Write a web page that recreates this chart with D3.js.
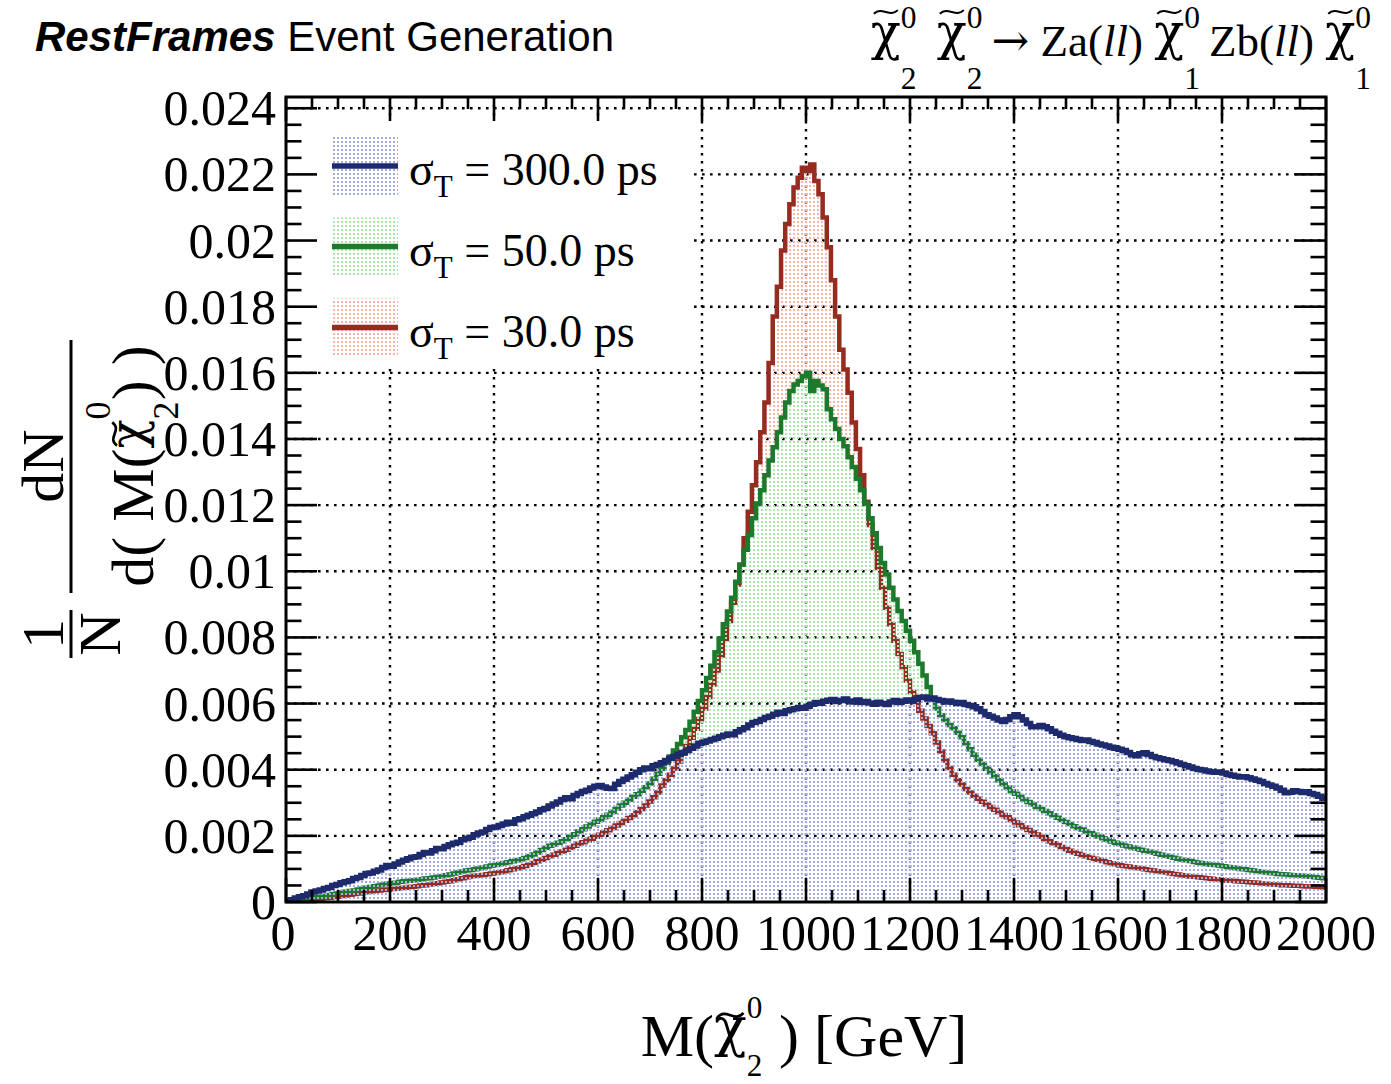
<!DOCTYPE html>
<html>
<head>
<meta charset="utf-8">
<script src="https://cdn.jsdelivr.net/npm/d3@7"></script>
<style>
  body { margin: 0; background: #fff; }
  text { font-family: "Liberation Serif", "Times New Roman", serif; fill: #000; white-space: pre; }
</style>
</head>
<body>
<script>
// histogram binning, GeV
var binWidth = 8, xMin = 0, xMax = 2000;

// 1/N dN/dM per 8 GeV bin, sigma_T = 300 ps
var sigma300 = [
  0.00003, 0.00007, 0.00012, 0.00016, 0.00019, 0.00024, 0.00030, 0.00033, 0.00036, 0.00041,
  0.00044, 0.00050, 0.00053, 0.00058, 0.00061, 0.00064, 0.00071, 0.00074, 0.00080, 0.00086,
  0.00088, 0.00093, 0.00097, 0.00104, 0.00110, 0.00108, 0.00115, 0.00121, 0.00126, 0.00131,
  0.00135, 0.00137, 0.00144, 0.00150, 0.00148, 0.00155, 0.00162, 0.00161, 0.00168, 0.00173,
  0.00178, 0.00181, 0.00188, 0.00192, 0.00196, 0.00203, 0.00209, 0.00212, 0.00219, 0.00225,
  0.00227, 0.00231, 0.00236, 0.00241, 0.00238, 0.00249, 0.00252, 0.00258, 0.00262, 0.00267,
  0.00272, 0.00279, 0.00283, 0.00290, 0.00296, 0.00302, 0.00310, 0.00315, 0.00312, 0.00322,
  0.00328, 0.00334, 0.00338, 0.00345, 0.00350, 0.00352, 0.00348, 0.00344, 0.00343, 0.00356,
  0.00364, 0.00371, 0.00378, 0.00385, 0.00392, 0.00400, 0.00405, 0.00403, 0.00412, 0.00416,
  0.00421, 0.00428, 0.00435, 0.00440, 0.00447, 0.00452, 0.00458, 0.00465, 0.00472, 0.00480,
  0.00483, 0.00487, 0.00491, 0.00495, 0.00500, 0.00504, 0.00508, 0.00506, 0.00515, 0.00521,
  0.00527, 0.00535, 0.00543, 0.00546, 0.00552, 0.00558, 0.00562, 0.00568, 0.00574, 0.00570,
  0.00578, 0.00581, 0.00584, 0.00588, 0.00586, 0.00592, 0.00598, 0.00603, 0.00601, 0.00607,
  0.00610, 0.00612, 0.00606, 0.00609, 0.00614, 0.00608, 0.00605, 0.00611, 0.00603, 0.00606,
  0.00602, 0.00598, 0.00604, 0.00600, 0.00597, 0.00605, 0.00609, 0.00603, 0.00607, 0.00611,
  0.00608, 0.00613, 0.00618, 0.00620, 0.00614, 0.00617, 0.00612, 0.00609, 0.00605, 0.00608,
  0.00604, 0.00600, 0.00603, 0.00597, 0.00594, 0.00590, 0.00584, 0.00576, 0.00566, 0.00562,
  0.00556, 0.00550, 0.00546, 0.00552, 0.00560, 0.00566, 0.00560, 0.00550, 0.00540, 0.00530,
  0.00530, 0.00534, 0.00530, 0.00524, 0.00516, 0.00510, 0.00504, 0.00500, 0.00497, 0.00494,
  0.00491, 0.00488, 0.00490, 0.00485, 0.00482, 0.00478, 0.00475, 0.00472, 0.00468, 0.00465,
  0.00462, 0.00458, 0.00452, 0.00445, 0.00442, 0.00448, 0.00451, 0.00446, 0.00440, 0.00436,
  0.00433, 0.00430, 0.00428, 0.00424, 0.00420, 0.00416, 0.00412, 0.00408, 0.00404, 0.00401,
  0.00399, 0.00396, 0.00394, 0.00392, 0.00393, 0.00390, 0.00386, 0.00383, 0.00380, 0.00378,
  0.00379, 0.00376, 0.00372, 0.00368, 0.00364, 0.00358, 0.00354, 0.00350, 0.00345, 0.00338,
  0.00330, 0.00332, 0.00336, 0.00334, 0.00331, 0.00333, 0.00328, 0.00325, 0.00320, 0.00314
];

// sigma_T = 50 ps
var sigma50 = [
  0.00001, 0.00003, 0.00005, 0.00006, 0.00008, 0.00011, 0.00013, 0.00015, 0.00017, 0.00019,
  0.00021, 0.00024, 0.00026, 0.00029, 0.00031, 0.00033, 0.00035, 0.00038, 0.00040, 0.00043,
  0.00045, 0.00048, 0.00050, 0.00053, 0.00055, 0.00057, 0.00058, 0.00061, 0.00063, 0.00064,
  0.00066, 0.00067, 0.00069, 0.00071, 0.00072, 0.00074, 0.00076, 0.00078, 0.00081, 0.00083,
  0.00086, 0.00089, 0.00092, 0.00095, 0.00097, 0.00099, 0.00101, 0.00104, 0.00107, 0.00110,
  0.00112, 0.00115, 0.00118, 0.00120, 0.00123, 0.00126, 0.00129, 0.00133, 0.00138, 0.00144,
  0.00150, 0.00157, 0.00164, 0.00170, 0.00174, 0.00179, 0.00184, 0.00190, 0.00197, 0.00205,
  0.00213, 0.00220, 0.00228, 0.00235, 0.00243, 0.00249, 0.00256, 0.00264, 0.00272, 0.00282,
  0.00292, 0.00300, 0.00309, 0.00318, 0.00326, 0.00336, 0.00347, 0.00358, 0.00373, 0.00388,
  0.00404, 0.00421, 0.00440, 0.00458, 0.00478, 0.00498, 0.00520, 0.00545, 0.00575, 0.00608,
  0.00640, 0.00677, 0.00714, 0.00755, 0.00797, 0.00840, 0.00878, 0.00920, 0.00968, 0.01020,
  0.01065, 0.01110, 0.01160, 0.01205, 0.01245, 0.01290, 0.01335, 0.01375, 0.01420, 0.01465,
  0.01510, 0.01545, 0.01565, 0.01575, 0.01590, 0.01600, 0.01545, 0.01575, 0.01562, 0.01550,
  0.01490, 0.01460, 0.01430, 0.01400, 0.01378, 0.01345, 0.01315, 0.01280, 0.01245, 0.01205,
  0.01160, 0.01115, 0.01070, 0.01025, 0.00990, 0.00950, 0.00915, 0.00880, 0.00850, 0.00820,
  0.00790, 0.00755, 0.00720, 0.00685, 0.00650, 0.00616, 0.00585, 0.00565, 0.00550, 0.00535,
  0.00525, 0.00512, 0.00498, 0.00480, 0.00462, 0.00445, 0.00430, 0.00417, 0.00405, 0.00392,
  0.00380, 0.00368, 0.00357, 0.00346, 0.00335, 0.00327, 0.00318, 0.00310, 0.00302, 0.00295,
  0.00287, 0.00281, 0.00275, 0.00268, 0.00262, 0.00255, 0.00248, 0.00242, 0.00236, 0.00229,
  0.00224, 0.00219, 0.00213, 0.00208, 0.00203, 0.00198, 0.00193, 0.00188, 0.00183, 0.00179,
  0.00175, 0.00171, 0.00168, 0.00165, 0.00161, 0.00158, 0.00155, 0.00152, 0.00149, 0.00146,
  0.00143, 0.00140, 0.00137, 0.00134, 0.00131, 0.00128, 0.00126, 0.00124, 0.00121, 0.00119,
  0.00117, 0.00115, 0.00113, 0.00112, 0.00110, 0.00108, 0.00106, 0.00104, 0.00102, 0.00100,
  0.00099, 0.00097, 0.00095, 0.00093, 0.00091, 0.00089, 0.00088, 0.00087, 0.00085, 0.00084,
  0.00083, 0.00082, 0.00081, 0.00080, 0.00079, 0.00078, 0.00076, 0.00075, 0.00073, 0.00072
];

// sigma_T = 30 ps
var sigma30 = [
  0.00001, 0.00002, 0.00003, 0.00004, 0.00005, 0.00006, 0.00008, 0.00009, 0.00010, 0.00012,
  0.00013, 0.00015, 0.00016, 0.00018, 0.00020, 0.00022, 0.00024, 0.00026, 0.00028, 0.00030,
  0.00032, 0.00033, 0.00035, 0.00036, 0.00038, 0.00039, 0.00040, 0.00042, 0.00043, 0.00045,
  0.00046, 0.00048, 0.00050, 0.00051, 0.00053, 0.00055, 0.00057, 0.00059, 0.00061, 0.00063,
  0.00066, 0.00069, 0.00072, 0.00075, 0.00077, 0.00079, 0.00080, 0.00082, 0.00084, 0.00086,
  0.00088, 0.00090, 0.00093, 0.00096, 0.00099, 0.00102, 0.00105, 0.00109, 0.00113, 0.00118,
  0.00123, 0.00128, 0.00133, 0.00138, 0.00143, 0.00148, 0.00153, 0.00158, 0.00164, 0.00170,
  0.00176, 0.00181, 0.00186, 0.00191, 0.00197, 0.00203, 0.00210, 0.00217, 0.00224, 0.00231,
  0.00239, 0.00246, 0.00254, 0.00262, 0.00271, 0.00281, 0.00292, 0.00304, 0.00317, 0.00331,
  0.00352, 0.00368, 0.00385, 0.00404, 0.00425, 0.00448, 0.00472, 0.00497, 0.00524, 0.00553,
  0.00585, 0.00620, 0.00658, 0.00700, 0.00745, 0.00795, 0.00850, 0.00905, 0.00960, 0.01020,
  0.01100, 0.01180, 0.01260, 0.01330, 0.01420, 0.01510, 0.01630, 0.01770, 0.01860, 0.01970,
  0.02050, 0.02110, 0.02160, 0.02190, 0.02220, 0.02210, 0.02230, 0.02180, 0.02140, 0.02070,
  0.01980, 0.01880, 0.01770, 0.01670, 0.01610, 0.01540, 0.01450, 0.01370, 0.01290, 0.01210,
  0.01140, 0.01070, 0.01010, 0.00950, 0.00890, 0.00840, 0.00790, 0.00750, 0.00710, 0.00670,
  0.00635, 0.00605, 0.00578, 0.00555, 0.00532, 0.00510, 0.00482, 0.00455, 0.00428, 0.00405,
  0.00385, 0.00368, 0.00355, 0.00342, 0.00331, 0.00321, 0.00312, 0.00303, 0.00295, 0.00287,
  0.00279, 0.00271, 0.00263, 0.00256, 0.00248, 0.00240, 0.00232, 0.00225, 0.00218, 0.00211,
  0.00204, 0.00197, 0.00190, 0.00184, 0.00178, 0.00172, 0.00166, 0.00160, 0.00155, 0.00150,
  0.00146, 0.00142, 0.00138, 0.00134, 0.00131, 0.00128, 0.00124, 0.00120, 0.00117, 0.00114,
  0.00111, 0.00109, 0.00107, 0.00105, 0.00103, 0.00101, 0.00099, 0.00097, 0.00095, 0.00093,
  0.00091, 0.00089, 0.00087, 0.00085, 0.00083, 0.00081, 0.00079, 0.00077, 0.00076, 0.00075,
  0.00073, 0.00072, 0.00070, 0.00069, 0.00068, 0.00066, 0.00065, 0.00064, 0.00063, 0.00062,
  0.00061, 0.00060, 0.00059, 0.00058, 0.00056, 0.00055, 0.00054, 0.00053, 0.00052, 0.00051,
  0.00051, 0.00050, 0.00049, 0.00049, 0.00048, 0.00047, 0.00047, 0.00046, 0.00045, 0.00044
];

var legendLabels = ['300.0', '50.0', '30.0'];
var xTicks = [0, 200, 400, 600, 800, 1000, 1200, 1400, 1600, 1800, 2000];
var yTicks = [0, 0.002, 0.004, 0.006, 0.008, 0.01, 0.012, 0.014, 0.016, 0.018, 0.02, 0.022, 0.024];
var yTickLabels = ['0', '0.002', '0.004', '0.006', '0.008', '0.01', '0.012', '0.014', '0.016', '0.018', '0.02', '0.022', '0.024'];
var yMax = 0.02434;

var W = 1391, H = 1084;
var frame = {left: 286, right: 1326, top: 97, bottom: 902};
var greekFont = '"DejaVu Serif", serif';

var svg = d3.select('body').append('svg')
  .attr('width', W)
  .attr('height', H);
svg.append('rect').attr('width', W).attr('height', H).attr('fill', '#fff');

var x = d3.scaleLinear().domain([xMin, xMax]).range([frame.left, frame.right]);
var y = d3.scaleLinear().domain([0, yMax]).range([frame.bottom, frame.top]);

var defs = svg.append('defs');
defs.append('clipPath').attr('id', 'clip')
  .append('rect')
  .attr('x', frame.left).attr('y', frame.top)
  .attr('width', frame.right - frame.left).attr('height', frame.bottom - frame.top);

function dotPattern(id, color) {
  var p = defs.append('pattern').attr('id', id)
    .attr('patternUnits', 'userSpaceOnUse')
    .attr('width', 4).attr('height', 4);
  p.append('rect').attr('x', 1).attr('y', 1).attr('width', 2).attr('height', 2).attr('fill', color);
}
dotPattern('dotsBlue', '#a3acde');
dotPattern('dotsGreen', '#a8e6b0');
dotPattern('dotsRed', '#f7b4ac');

var series = [
  {values: sigma30,  color: '#962b20', fill: 'url(#dotsRed)',   width: 4.5},
  {values: sigma50,  color: '#1c7a2c', fill: 'url(#dotsGreen)', width: 4.5},
  {values: sigma300, color: '#1d2a6e', fill: 'url(#dotsBlue)',  width: 5.5}
];

// grid
var grid = svg.append('g').attr('clip-path', 'url(#clip)')
  .attr('stroke', '#000').attr('stroke-width', 2.4).attr('stroke-dasharray', '2.6,5.4');
grid.selectAll('.gx').data(xTicks.slice(1, -1)).enter().append('line')
  .attr('x1', function(d) { return x(d); }).attr('x2', function(d) { return x(d); })
  .attr('y1', frame.top).attr('y2', frame.bottom);
grid.selectAll('.gy').data(yTicks.slice(1)).enter().append('line')
  .attr('y1', function(d) { return y(d); }).attr('y2', function(d) { return y(d); })
  .attr('x1', frame.left).attr('x2', frame.right);

// histograms
function toSteps(vals) {
  var pts = vals.map(function(v, i) { return {e: xMin + i * binWidth, v: v}; });
  pts.push({e: xMin + vals.length * binWidth, v: vals[vals.length - 1]});
  return pts;
}
var stepArea = d3.area().curve(d3.curveStepAfter)
  .x(function(d) { return x(d.e); })
  .y0(y(0))
  .y1(function(d) { return y(d.v); });
var stepLine = d3.line().curve(d3.curveStepAfter)
  .x(function(d) { return x(d.e); })
  .y(function(d) { return y(d.v); });

var hist = svg.append('g').attr('clip-path', 'url(#clip)');
series.forEach(function(s) {
  var pts = toSteps(s.values);
  hist.append('path').datum(pts).attr('d', stepArea).attr('fill', s.fill).attr('stroke', 'none');
  hist.append('path').datum(pts).attr('d', stepLine).attr('fill', 'none')
    .attr('stroke', s.color).attr('stroke-width', s.width).attr('stroke-linejoin', 'miter');
});

// legend background (hides the grid behind it)
svg.append('rect').attr('x', 289).attr('y', 118).attr('width', 400).attr('height', 250).attr('fill', '#fff');

// frame and ticks
svg.append('rect')
  .attr('x', frame.left).attr('y', frame.top)
  .attr('width', frame.right - frame.left).attr('height', frame.bottom - frame.top)
  .attr('fill', 'none').attr('stroke', '#000').attr('stroke-width', 3);

var ticks = svg.append('g').attr('stroke', '#000').attr('stroke-width', 2.6);
var xMinor = d3.range(xMin, xMax + 1, 50);
var yMinor = d3.range(0, 0.02401, 0.0005);
xMinor.forEach(function(v) {
  var len = (v % 200 === 0) ? 24 : 12;
  ticks.append('line').attr('x1', x(v)).attr('x2', x(v)).attr('y1', frame.bottom).attr('y2', frame.bottom - len);
  ticks.append('line').attr('x1', x(v)).attr('x2', x(v)).attr('y1', frame.top).attr('y2', frame.top + len);
});
yMinor.forEach(function(v, i) {
  var len = (i % 4 === 0) ? 31 : 15.5;
  ticks.append('line').attr('y1', y(v)).attr('y2', y(v)).attr('x1', frame.left).attr('x2', frame.left + len);
  ticks.append('line').attr('y1', y(v)).attr('y2', y(v)).attr('x1', frame.right).attr('x2', frame.right - len);
});

// tick labels
svg.selectAll('.xl').data(xTicks).enter().append('text')
  .attr('x', function(d) { return x(d) - (d === 0 ? 3 : 0); }).attr('y', 950)
  .attr('text-anchor', 'middle').style('font-size', '50px')
  .text(function(d) { return d; });
svg.selectAll('.yl').data(yTicks).enter().append('text')
  .attr('x', 276).attr('y', function(d) { return y(d) + 17; })
  .attr('text-anchor', 'end').style('font-size', '50px')
  .text(function(d, i) { return yTickLabels[i]; });

// rich text helper: pieces laid out left to right
function put(g, px, p) {
  var t = g.append('text').attr('x', px).attr('y', p.dy || 0).style('font-size', p.s + 'px').text(p.t);
  if (p.it) t.style('font-style', 'italic');
  if (p.b) t.style('font-weight', 'bold');
  if (p.fam) t.style('font-family', p.fam);
  return {x: px, w: t.node().getComputedTextLength(), s: p.s, base: p.base || p.s};
}
function rich(parent, items) {
  var g = parent.append('g'), px = 0, last = null;
  items.forEach(function(it) {
    if (it.tilde) {
      var w = last.w * 0.8, x0 = last.x + (last.w - w) / 2, h = last.base * 0.08, ty = -last.base * it.tilde;
      g.append('path')
        .attr('d', 'M' + x0 + ',' + (ty + h / 2) + 'C' + (x0 + w / 3) + ',' + (ty - h * 1.7) + ' ' +
          (x0 + 2 * w / 3) + ',' + (ty + h * 1.7) + ' ' + (x0 + w) + ',' + (ty - h / 2))
        .attr('fill', 'none').attr('stroke', '#000').attr('stroke-width', last.base * 0.045);
      return;
    }
    if (it.stack) {
      var mw = 0;
      it.stack.forEach(function(p) { mw = Math.max(mw, put(g, px, p).w); });
      px += mw + (it.pad || 0);
      return;
    }
    last = put(g, px, it);
    px += last.w;
  });
  return {g: g, w: px};
}
// chi-tilde with stacked sub/superscript; o holds sizes relative to base size s
function chi(s, sub, sup, o) {
  return [
    {t: 'χ', s: s * o.k, dy: -s * o.lift, base: s, fam: greekFont},
    {tilde: o.tilde},
    {stack: [{t: sup, s: s * o.scr, dy: -s * o.sup}, {t: sub, s: s * o.scr, dy: s * o.sub}], pad: s * (o.pad || 0)}
  ];
}

// header left
var head = rich(svg, [
  {t: 'RestFrames', s: 42, b: true, it: true, fam: '"Liberation Sans", Arial, sans-serif'},
  {t: ' Event Generation', s: 42, fam: '"Liberation Sans", Arial, sans-serif'}
]);
head.g.attr('transform', 'translate(35,51)');

// header right
var s0 = 45, oTop = {k: 1.1, lift: 0.15, tilde: 0.98, scr: 0.7, sup: 0.62, sub: 0.74, pad: 0.2};
var proc = rich(svg, [].concat(
  chi(s0, '2', '0', oTop), [{t: ' ', s: s0}], chi(s0, '2', '0', oTop),
  [{t: '→', s: s0, fam: greekFont}, {t: ' Za(', s: s0}, {t: 'll', s: s0, it: true}, {t: ') ', s: s0}],
  chi(s0, '1', '0', oTop),
  [{t: 'Zb(', s: s0}, {t: 'll', s: s0, it: true}, {t: ') ', s: s0}],
  chi(s0, '1', '0', oTop)
));
proc.g.attr('transform', 'translate(' + (1380 - proc.w) + ',56)');

// legend
var legY = [166, 246.5, 327.5];
var legOrder = [2, 1, 0];
legOrder.forEach(function(si, k) {
  var s = series[si], cy = legY[k];
  svg.append('rect').attr('x', 332).attr('y', cy - 29).attr('width', 66).attr('height', 58).attr('fill', s.fill);
  svg.append('line').attr('x1', 332).attr('x2', 398).attr('y1', cy).attr('y2', cy)
    .attr('stroke', s.color).attr('stroke-width', 5.5);
  var lab = rich(svg, [
    {t: 'σ', s: 46},
    {t: 'T', s: 31, dy: 12},
    {t: ' = ' + legendLabels[k] + ' ps', s: 46}
  ]);
  lab.g.attr('transform', 'translate(409,' + (cy + 19) + ')');
});

// x title
var oX = {k: 0.9, lift: 0.17, tilde: 0.68, scr: 0.52, sup: 0.63, sub: 0.34, pad: 0.28};
var xt = rich(svg, [].concat([{t: 'M(', s: 60}], chi(60, '2', '0', oX), [{t: ') [GeV]', s: 60}]));
xt.g.attr('transform', 'translate(' + (804 - xt.w / 2) + ',1056)');

// y title: 1/N dN/d( M(chi) ), rotated
function yPiece(items, bx, cy) {
  var r = rich(svg, items);
  r.g.attr('transform', 'translate(' + bx + ',' + cy + ') rotate(-90) translate(' + (-r.w / 2) + ',0)');
}
var oY = {k: 0.8, lift: 0.15, tilde: 0.64, scr: 0.6, sup: 0.72, sub: 0.42, pad: 0.02};
yPiece([{t: '1', s: 60}], 63, 634);
yPiece([{t: 'N', s: 60}], 120, 634);
yPiece([{t: 'dN', s: 60}], 63, 466);
yPiece([].concat([{t: 'd( M(', s: 60}], chi(60, '2', '0', oY), [{t: ') )', s: 60}]), 153, 466);
svg.append('line').attr('x1', 71).attr('x2', 71).attr('y1', 610).attr('y2', 658)
  .attr('stroke', '#000').attr('stroke-width', 3);
svg.append('line').attr('x1', 71).attr('x2', 71).attr('y1', 340).attr('y2', 593)
  .attr('stroke', '#000').attr('stroke-width', 3);
</script>
</body>
</html>
